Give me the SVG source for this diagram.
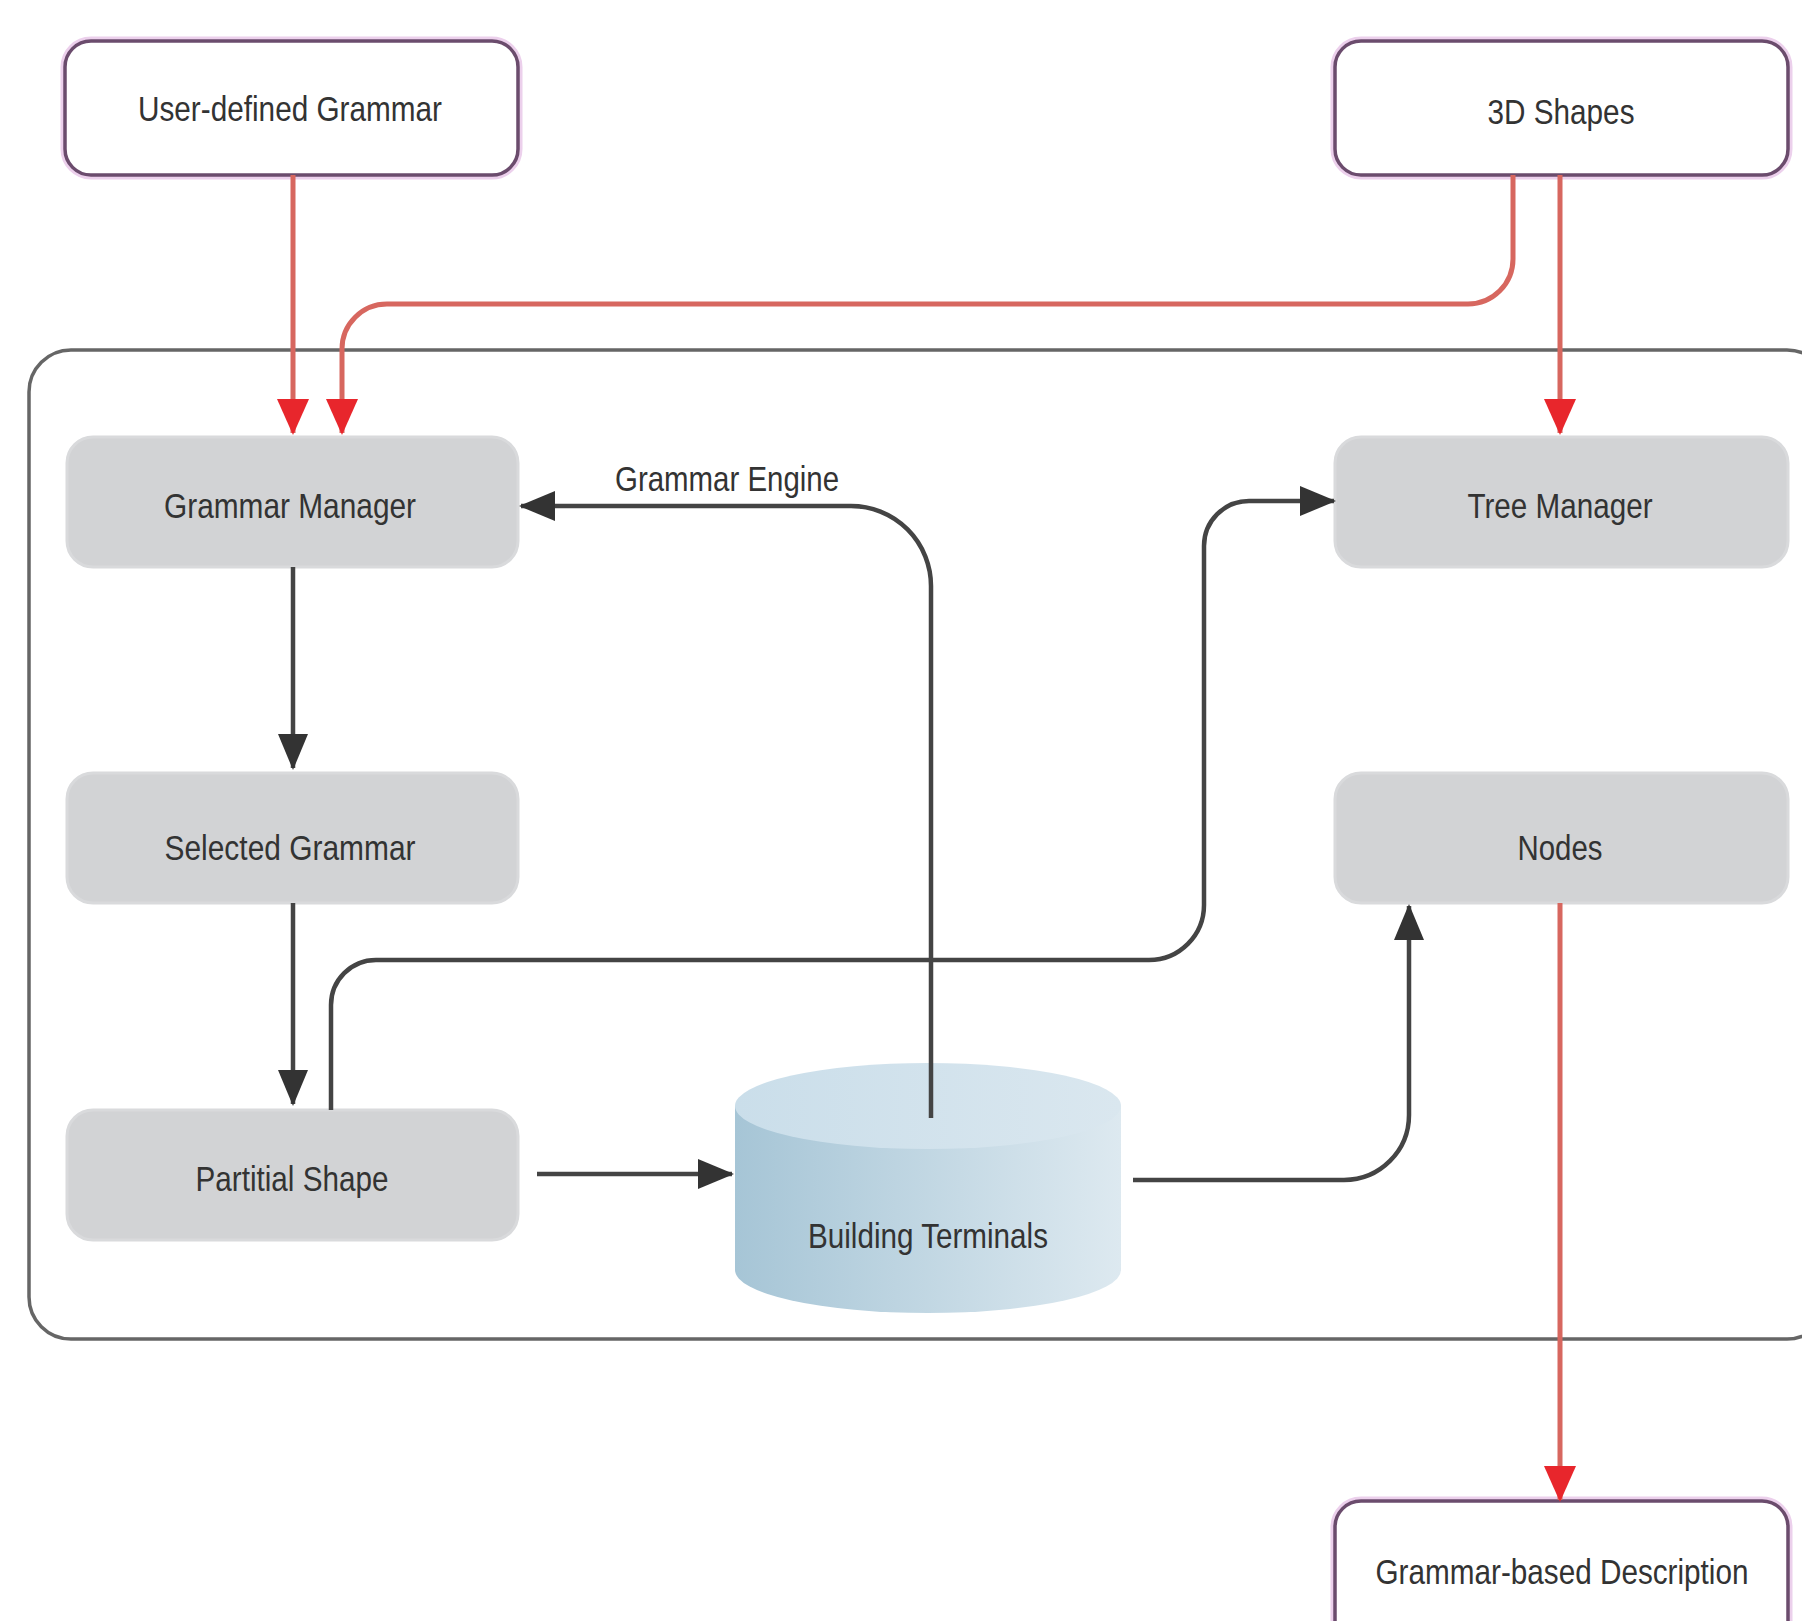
<svg xmlns="http://www.w3.org/2000/svg" width="1802" height="1621" viewBox="0 0 1802 1621">
<defs>
<style>
.t{font-family:"Liberation Sans",Arial,sans-serif;font-size:35px;fill:#333;text-anchor:middle}
.io{fill:#fff;stroke:#6b4c6d;stroke-width:3.5}
.glow{fill:none;stroke:#ecd0ec;stroke-width:9}
.proc{fill:#d2d3d5;stroke:#d9dadc;stroke-width:3}
.blk{fill:none;stroke:#444;stroke-width:4.5}
.red{fill:none;stroke:#d7675f;stroke-width:5}
</style>
<marker id="ab" viewBox="0 0 36 30" refX="34" refY="15" markerWidth="36" markerHeight="30" markerUnits="userSpaceOnUse" orient="auto"><path d="M0,0 L36,15 L0,30 z" fill="#333"/></marker>
<marker id="ar" viewBox="0 0 36 32" refX="34" refY="16" markerWidth="36" markerHeight="32" markerUnits="userSpaceOnUse" orient="auto"><path d="M0,0 L36,16 L0,32 z" fill="#e8262c"/></marker>
<linearGradient id="cyl" x1="0" y1="0" x2="1" y2="0">
<stop offset="0" stop-color="#a6c5d6"/>
<stop offset="1" stop-color="#dde9f0"/>
</linearGradient>
<linearGradient id="cyltop" x1="0" y1="0" x2="1" y2="0">
<stop offset="0" stop-color="#cadeea"/>
<stop offset="1" stop-color="#dae7ef"/>
</linearGradient>
</defs>
<rect width="1802" height="1621" fill="#fff"/>
<g id="container">
<rect x="29" y="350" width="1800" height="989" rx="42" fill="none" stroke="#666" stroke-width="3.5"/>
</g>
<g id="user-defined-grammar">
<rect class="glow" x="65" y="41" width="453" height="134" rx="26"/>
<rect class="io" x="65" y="41" width="453" height="134" rx="26"/>
<text class="t" x="290" y="121" textLength="304" lengthAdjust="spacingAndGlyphs">User-defined Grammar</text>
</g>
<g id="3d-shapes">
<rect class="glow" x="1335" y="41" width="453" height="134" rx="26"/>
<rect class="io" x="1335" y="41" width="453" height="134" rx="26"/>
<text class="t" x="1561" y="124" textLength="147" lengthAdjust="spacingAndGlyphs">3D Shapes</text>
</g>
<g id="grammar-manager">
<rect class="proc" x="67" y="437" width="451" height="130" rx="26"/>
<text class="t" x="290" y="518" textLength="252" lengthAdjust="spacingAndGlyphs">Grammar Manager</text>
</g>
<g id="selected-grammar">
<rect class="proc" x="67" y="773" width="451" height="130" rx="26"/>
<text class="t" x="290" y="860" textLength="251" lengthAdjust="spacingAndGlyphs">Selected Grammar</text>
</g>
<g id="partial-shape">
<rect class="proc" x="67" y="1110" width="451" height="130" rx="26"/>
<text class="t" x="292" y="1191" textLength="193" lengthAdjust="spacingAndGlyphs">Partitial Shape</text>
</g>
<g id="tree-manager">
<rect class="proc" x="1335" y="437" width="453" height="130" rx="26"/>
<text class="t" x="1560" y="518" textLength="185" lengthAdjust="spacingAndGlyphs">Tree Manager</text>
</g>
<g id="nodes">
<rect class="proc" x="1335" y="773" width="453" height="130" rx="26"/>
<text class="t" x="1560" y="860" textLength="85" lengthAdjust="spacingAndGlyphs">Nodes</text>
</g>
<g id="grammar-based-description">
<rect class="glow" x="1335" y="1501" width="453" height="160" rx="26"/>
<rect class="io" x="1335" y="1501" width="453" height="160" rx="26"/>
<text class="t" x="1562" y="1584" textLength="373" lengthAdjust="spacingAndGlyphs">Grammar-based Description</text>
</g>
<g id="building-terminals">
<path d="M735,1106 V1270 A193 43 0 0 0 1121,1270 V1106 Z" fill="url(#cyl)"/>
<ellipse cx="928" cy="1106" rx="193" ry="43" fill="url(#cyltop)"/>
<text class="t" x="928" y="1248" textLength="240" lengthAdjust="spacingAndGlyphs">Building Terminals</text>
</g>
<g id="connectors">
<path class="red" d="M293,175 V433" marker-end="url(#ar)"/>
<path class="red" d="M1513,175 V259 A45 45 0 0 1 1468 304 H387 A45 45 0 0 0 342 349 V433" marker-end="url(#ar)"/>
<path class="red" d="M1560,175 V433" marker-end="url(#ar)"/>
<path class="red" d="M1560,903 V1500" marker-end="url(#ar)"/>
<path class="blk" d="M293,567 V768" marker-end="url(#ab)"/>
<path class="blk" d="M293,903 V1104" marker-end="url(#ab)"/>
<path class="blk" d="M537,1174 H732" marker-end="url(#ab)"/>
<path class="blk" d="M331,1110 V1005 A45 45 0 0 1 376 960 H1149 A55 55 0 0 0 1204 905 V546 A45 45 0 0 1 1249 501 H1334" marker-end="url(#ab)"/>
<path class="blk" d="M931,1118 V586 A80 80 0 0 0 851 506 H521" marker-end="url(#ab)"/>
<path class="blk" d="M1133,1180 H1344 A65 65 0 0 0 1409 1115 V906" marker-end="url(#ab)"/>
<text class="t" x="727" y="491" textLength="224" lengthAdjust="spacingAndGlyphs">Grammar Engine</text>
</g>
</svg>
